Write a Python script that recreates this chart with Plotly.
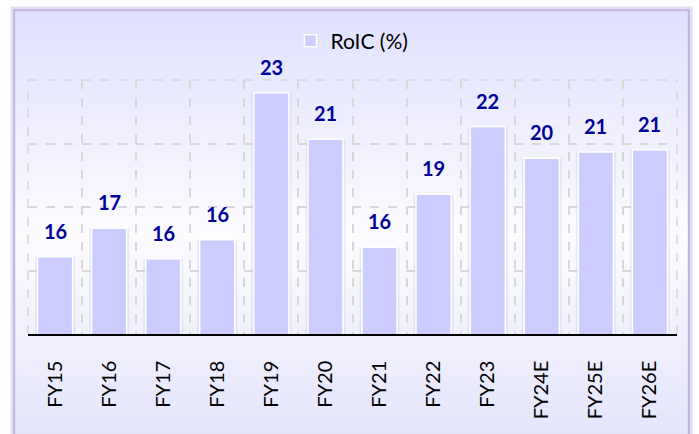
import plotly.graph_objects as go

# Return on invested capital by fiscal year (E = estimate)
years = ["FY15", "FY16", "FY17", "FY18", "FY19", "FY20",
         "FY21", "FY22", "FY23", "FY24E", "FY25E", "FY26E"]
roic = [15.65, 17.0, 15.55, 16.45, 23.4, 21.2,
        16.1, 18.6, 21.8, 20.3, 20.6, 20.7]
series_name = "RoIC (%)"

W, H = 699, 434
FONT = "Lato"
PL, PR, PT, PB = 28, 677, 80, 334  # plot area edges in pixels


def px_x(px):
    return (px - PL) / (PR - PL)


def px_y(py):
    return (PB - py) / (PB - PT)


fig = go.Figure()

# soft shadow behind the bars
fig.add_trace(go.Bar(
    x=years, y=roic, width=0.74, showlegend=False, hoverinfo="skip",
    marker=dict(color="rgba(190,190,200,0.28)", line=dict(width=0)),
))
fig.add_trace(go.Bar(
    x=years, y=roic, width=0.65, name=series_name,
    marker=dict(color="#CCCCFF", line=dict(color="white", width=1.5)),
))

# value labels above each bar
annotations = []
for cat, val in zip(years, roic):
    annotations.append(dict(
        x=cat, y=val, xref="x", yref="y", text=f"<b>{val:.0f}</b>",
        showarrow=False, yanchor="bottom", yshift=12,
        font=dict(family=FONT, size=20, color="#000099"),
    ))

# vertical background gradient inside the frame
shapes = []
top_px, bot_px = 10, 440
stops = [(10, (224, 224, 255)), (235, (252, 252, 255)), (440, (228, 228, 252))]


def color_at(py):
    for (ya, ca), (yb, cb) in zip(stops[:-1], stops[1:]):
        if ya <= py <= yb:
            t = (py - ya) / (yb - ya)
            return tuple(round(a + (b - a) * t) for a, b in zip(ca, cb))
    return stops[-1][1]


n = 60
step = (bot_px - top_px) / n
for i in range(n):
    ya = top_px + i * step
    yb = ya + step + 0.6
    c = color_at(ya + step / 2)
    shapes.append(dict(
        type="rect", xref="paper", yref="paper", layer="below",
        x0=px_x(14), x1=px_x(689), y0=px_y(yb), y1=px_y(ya),
        fillcolor=f"rgb({c[0]},{c[1]},{c[2]})", line=dict(width=0),
    ))

# frame border with a faint glow
shapes.append(dict(
    type="rect", xref="paper", yref="paper", layer="below",
    x0=px_x(13), x1=px_x(690), y0=px_y(445), y1=px_y(9),
    fillcolor="rgba(0,0,0,0)", line=dict(color="rgba(200,185,225,0.45)", width=5),
))
shapes.append(dict(
    type="rect", xref="paper", yref="paper", layer="below",
    x0=px_x(14), x1=px_x(689), y0=px_y(445), y1=px_y(10),
    fillcolor="rgba(0,0,0,0)", line=dict(color="#C8B6E2", width=2),
))

# dashed outline of the plot area (top, left, right)
grid_line = dict(color="#D8D8D8", width=1.5, dash="dash")
shapes.append(dict(type="line", xref="paper", yref="paper", layer="below",
                   x0=0, x1=1, y0=1, y1=1, line=grid_line))
shapes.append(dict(type="line", xref="paper", yref="paper", layer="below",
                   x0=0, x1=0, y0=0, y1=1, line=grid_line))
shapes.append(dict(type="line", xref="paper", yref="paper", layer="below",
                   x0=1, x1=1, y0=0, y1=1, line=grid_line))

fig.update_layout(
    width=W, height=H,
    margin=dict(l=PL, r=W - PR, t=PT, b=H - PB),
    paper_bgcolor="white",
    plot_bgcolor="rgba(0,0,0,0)",
    barmode="overlay",
    font=dict(family=FONT, color="black"),
    showlegend=True,
    legend=dict(
        orientation="h", x=px_x(352), xanchor="center", y=px_y(41), yanchor="middle",
        bgcolor="rgba(0,0,0,0)", font=dict(family=FONT, size=21, color="black"),
    ),
    annotations=annotations,
    shapes=shapes,
    xaxis=dict(
        type="category", tickangle=-90, tickson="boundaries",
        showgrid=True, gridcolor="#D8D8D8", griddash="dash", gridwidth=1.5,
        showline=True, linecolor="black", linewidth=1.5,
        ticks="", ticklabelstandoff=17,
        tickfont=dict(family=FONT, size=20, color="black"),
    ),
    yaxis=dict(
        range=[12, 24], dtick=3, tick0=12, showticklabels=False,
        showgrid=True, gridcolor="#D8D8D8", griddash="dash", gridwidth=1.5,
        zeroline=False, showline=False, ticks="",
    ),
)

fig.write_html("out.html")
